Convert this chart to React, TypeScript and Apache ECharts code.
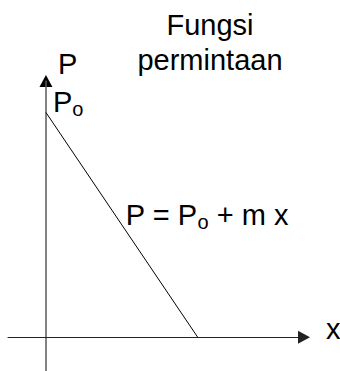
import React, { useEffect, useRef } from 'react';
import * as echarts from 'echarts';

// ---- data ----
const titleLines = ['Fungsi', 'permintaan'];
const yAxisName = 'P';
const xAxisName = 'x';
const demandX = [0, 4];
const demandP = [5, 0];
const xRange = [-1, 6.8];
const yRange = [-0.75, 5.7];
const interceptLabel = ['P', 'o'];
const equationParts = ['P = P', 'o', ' + m x'];

const FONT = '"Liberation Sans", Arial, sans-serif';
const FS = 29;
const SUB_FS = 20;

function measure(text: string, size: number): number {
  const c = document.createElement('canvas').getContext('2d')!;
  c.font = `${size}px ${FONT}`;
  return c.measureText(text).width;
}

export default function App() {
  const ref = useRef<HTMLDivElement>(null);
  useEffect(() => {
    document.body.style.margin = '0';
    const chart = echarts.init(ref.current!, null, { renderer: 'svg' });
    chart.setOption({
      animation: false,
      backgroundColor: '#fff',
      grid: { left: 8, right: 36, top: 81, bottom: 0 },
      xAxis: {
        type: 'value',
        min: xRange[0],
        max: xRange[1],
        axisLine: {
          onZero: true,
          symbol: ['none', 'triangle'],
          symbolSize: [13, 12],
          lineStyle: { color: '#222', width: 1 },
        },
        axisTick: { show: false },
        axisLabel: { show: false },
        splitLine: { show: false },
      },
      yAxis: {
        type: 'value',
        min: yRange[0],
        max: yRange[1],
        axisLine: {
          show: true,
          onZero: true,
          symbol: ['none', 'none'],
          lineStyle: { color: '#5a5a5a', width: 1.5 },
        },
        axisTick: { show: false },
        axisLabel: { show: false },
        splitLine: { show: false },
      },
      series: [
        {
          type: 'line',
          data: demandX.map((x, i) => [x, demandP[i]]),
          showSymbol: false,
          lineStyle: { color: '#000', width: 1 },
        },
      ],
    });

    const p0 = chart.convertToPixel({ gridIndex: 0 }, [demandX[0], demandP[0]]) as number[];
    const pm = chart.convertToPixel({ gridIndex: 0 }, [
      (demandX[0] + demandX[1]) / 2,
      (demandP[0] + demandP[1]) / 2,
    ]) as number[];
    const origin = chart.convertToPixel({ gridIndex: 0 }, [0, 0]) as number[];
    const xEnd = chart.convertToPixel({ gridIndex: 0 }, [xRange[1], 0]) as number[];
    const yEnd = chart.convertToPixel({ gridIndex: 0 }, [0, yRange[1]]) as number[];

    const txt = (text: string, x: number, y: number, size: number, align = 'left') => ({
      type: 'text',
      x,
      y,
      style: { text, fontSize: size, fontFamily: FONT, fill: '#000', align, verticalAlign: 'middle' },
    });

    // subscripted label: main parts and subscript parts placed sequentially
    const subLabel = (parts: string[], x: number, y: number) => {
      const els: any[] = [];
      let cx = x;
      parts.forEach((p, i) => {
        const isSub = i % 2 === 1;
        const size = isSub ? SUB_FS : FS;
        els.push(txt(p, cx, isSub ? y + 7 : y, size));
        cx += measure(p, size);
      });
      return els;
    };

    chart.setOption({
      graphic: [
        // black arrow head on top of the vertical axis
        {
          type: 'polygon',
          shape: {
            points: [
              [yEnd[0], yEnd[1] - 6],
              [yEnd[0] - 6.5, yEnd[1] + 6],
              [yEnd[0] + 6.5, yEnd[1] + 6],
            ],
          },
          style: { fill: '#000' },
        },
        txt(titleLines[0], 210, 25, FS, 'center'),
        txt(titleLines[1], 210, 60, FS, 'center'),
        txt(yAxisName, yEnd[0] + 12, yEnd[1] - 17, FS),
        txt(xAxisName, xEnd[0] + 22, origin[1] - 8, FS),
        ...subLabel(interceptLabel, p0[0] + 7, p0[1] - 10),
        ...subLabel(equationParts, pm[0] + 4, pm[1] - 10),
      ],
    });
    return () => chart.dispose();
  }, []);
  return <div ref={ref} style={{ width: 340, height: 371 }} />;
}
